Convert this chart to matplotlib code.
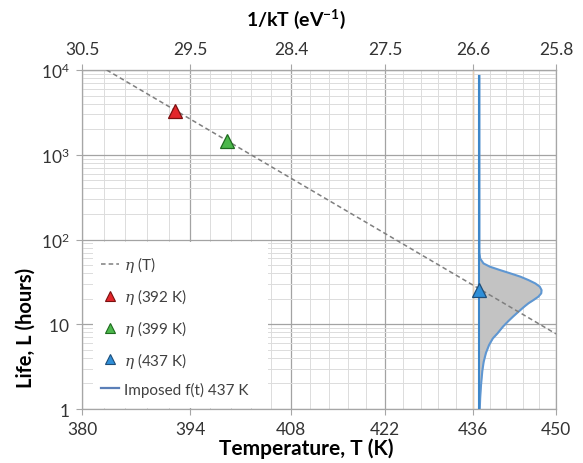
import numpy as np
import matplotlib
matplotlib.use("Agg")
import matplotlib.pyplot as plt
from matplotlib.patches import Rectangle
from matplotlib.lines import Line2D
from matplotlib.ticker import LogLocator, FixedLocator, NullFormatter

plt.rcParams['font.family'] = ['Lato', 'DejaVu Sans']
plt.rcParams['mathtext.fontset'] = 'custom'
plt.rcParams['mathtext.rm'] = 'Lato'
plt.rcParams['mathtext.bf'] = 'Lato:bold'
plt.rcParams['mathtext.it'] = 'DejaVu Serif:italic'

BOLTZMANN = 8.617333e-5  # eV/K

# ---- data -------------------------------------------------------------
temp_ticks = [380, 394, 408, 422, 436, 450]          # K
life_ticks = [1, 10, 100, 1000, 10000]              # hours
life_tick_labels = [r'$\mathregular{1}$', r'$\mathregular{10}$', r'$\mathregular{10^2}$',
                    r'$\mathregular{10^3}$', r'$\mathregular{10^4}$']

# Arrhenius life model eta(T): straight line on log-L vs 1/kT
model_temp = [383.1, 450.0]
model_life = [10000.0, 7.7]

# characteristic life at the three test temperatures
test_temp = [392, 399, 437]
test_life = [3300.0, 1450.0, 25.5]
test_fill = ['#e3262b', '#4cb84c', '#2f8fd8']
test_edge = ['#7a1010', '#1e6b1e', '#1f4e79']

# imposed failure-time density at 437 K (relative height vs life)
pdf_temp = 437
pdf_life = [1.0, 1.35, 1.9, 2.8, 3.6, 4.6, 5.7, 6.8, 7.8, 9.4, 10.8, 12.3, 14.1,
            16.1, 17.7, 19.3, 21.2, 23.2, 25.3, 27.8, 30.3, 33.2, 36.4, 39.8,
            43.6, 47.7, 52.2, 59.7, 70.0, 8500.0]
pdf_rel = [0.005, 0.012, 0.025, 0.046, 0.068, 0.105, 0.155, 0.215, 0.29, 0.38,
           0.46, 0.54, 0.63, 0.72, 0.79, 0.87, 0.95, 0.995, 1.0, 0.97, 0.90,
           0.79, 0.66, 0.50, 0.33, 0.17, 0.065, 0.011, 0.0, 0.0]


def inv_kt(t):
    return 1.0 / (BOLTZMANN * np.asarray(t, dtype=float))


# ---- figure -----------------------------------------------------------
fig = plt.figure(figsize=(5.83, 4.64), dpi=100)
W, H = 583, 464
left, right, top, bottom = 82, 556, 71, 410
ax = fig.add_axes([left / W, 1 - bottom / H, (right - left) / W, (bottom - top) / H])

ax.set_xlim(inv_kt(temp_ticks[0]), inv_kt(temp_ticks[-1]))
ax.set_yscale('log')
ax.set_ylim(life_ticks[0], life_ticks[-1])
ax.set_axisbelow(True)

major_x = inv_kt(temp_ticks)
minor_x = np.concatenate([np.linspace(a, b, 6)[1:-1] for a, b in zip(major_x[:-1], major_x[1:])])
ax.xaxis.set_major_locator(FixedLocator(major_x))
ax.xaxis.set_minor_locator(FixedLocator(minor_x))
ax.set_xticklabels([str(t) for t in temp_ticks])
ax.yaxis.set_major_locator(FixedLocator(life_ticks))
ax.yaxis.set_minor_locator(LogLocator(base=10, subs=np.arange(2, 10)))
ax.yaxis.set_minor_formatter(NullFormatter())
ax.set_yticklabels(life_tick_labels)

ax.grid(which='major', color='#a3a3a3', lw=0.9)
ax.grid(which='minor', color='#dcdcdc', lw=0.7)
for s in ax.spines.values():
    s.set_color('#a6a6a6')
    s.set_linewidth(0.9)
ax.tick_params(which='major', length=4, color='#a6a6a6', labelsize=12.5,
               labelcolor='#333333', pad=5)
ax.tick_params(which='minor', length=0)

# highlighted gridline at 436 K
ax.axvline(inv_kt(436), color='#e6cfb4', lw=1.0, zorder=1)

sec = ax.secondary_xaxis('top')
sec.set_xticks(major_x)
sec.set_xticklabels([f'{v:.1f}' for v in major_x])
sec.tick_params(which='major', length=4, color='#a6a6a6', labelsize=12.5,
                labelcolor='#333333', pad=5)
sec.tick_params(which='minor', length=0)
sec.spines['top'].set_color('#a6a6a6')

# model line
ax.plot(inv_kt(model_temp), model_life, ls=(0, (3, 2)), color='#7f7f7f', lw=1.1, zorder=5)

# imposed density at 437 K
base = inv_kt(pdf_temp)
pdf_width = 0.6225  # peak offset in eV^-1
curve_x = base - np.asarray(pdf_rel) * pdf_width
ax.fill_betweenx(pdf_life, base, curve_x, color='#c3c3c3', lw=0, zorder=3)
ax.plot(curve_x, pdf_life, color='#5f97d2', lw=1.5, zorder=4)
ax.plot([base, base], [pdf_life[0], pdf_life[-1]], color='#3d86c8', lw=1.5, zorder=4)

# test points
for t, l, fc, ec in zip(test_temp, test_life, test_fill, test_edge):
    ax.plot(inv_kt(t), l, marker='^', ms=10, mfc=fc, mec=ec, mew=0.9, ls='none', zorder=6)

# legend area
ax.add_patch(Rectangle((0.023, 0.003), 0.369, 0.49, transform=ax.transAxes,
                       facecolor='white', edgecolor='none', zorder=2))
handles = [
    Line2D([], [], color='#7f7f7f', ls=(0, (3, 2)), lw=1.1),
    Line2D([], [], marker='^', ls='none', ms=7.5, mfc=test_fill[0], mec=test_edge[0], mew=0.8),
    Line2D([], [], marker='^', ls='none', ms=7.5, mfc=test_fill[1], mec=test_edge[1], mew=0.8),
    Line2D([], [], marker='^', ls='none', ms=7.5, mfc=test_fill[2], mec=test_edge[2], mew=0.8),
    Line2D([], [], color='#5b7fb8', lw=1.6),
]
labels = [r'$\eta$ (T)', r'$\eta$ (392 K)', r'$\eta$ (399 K)', r'$\eta$ (437 K)',
          'Imposed f(t) 437 K']
leg = ax.legend(handles, labels, loc='upper left', bbox_to_anchor=(0.028, 0.475),
                frameon=False, fontsize=11, handlelength=1.15, handletextpad=0.35,
                labelspacing=0.78, borderaxespad=0)
for txt in leg.get_texts():
    txt.set_color('#404040')
leg.set_zorder(7)

# axis titles
ax.set_xlabel('Temperature, T (K)', fontsize=15, fontweight='bold')
ax.xaxis.set_label_coords(0.4726, -0.083)
ax.set_ylabel('Life, L (hours)', fontsize=14.5, fontweight='bold')
ax.yaxis.set_label_coords(-0.097, 0.242)
fig.text(296 / W, 1 - 19 / H, r'1/kT (eV$^{\mathbf{-1}}$)', fontsize=14, fontweight='bold',
         ha='center', va='center')

fig.savefig('out.png', dpi=100)
